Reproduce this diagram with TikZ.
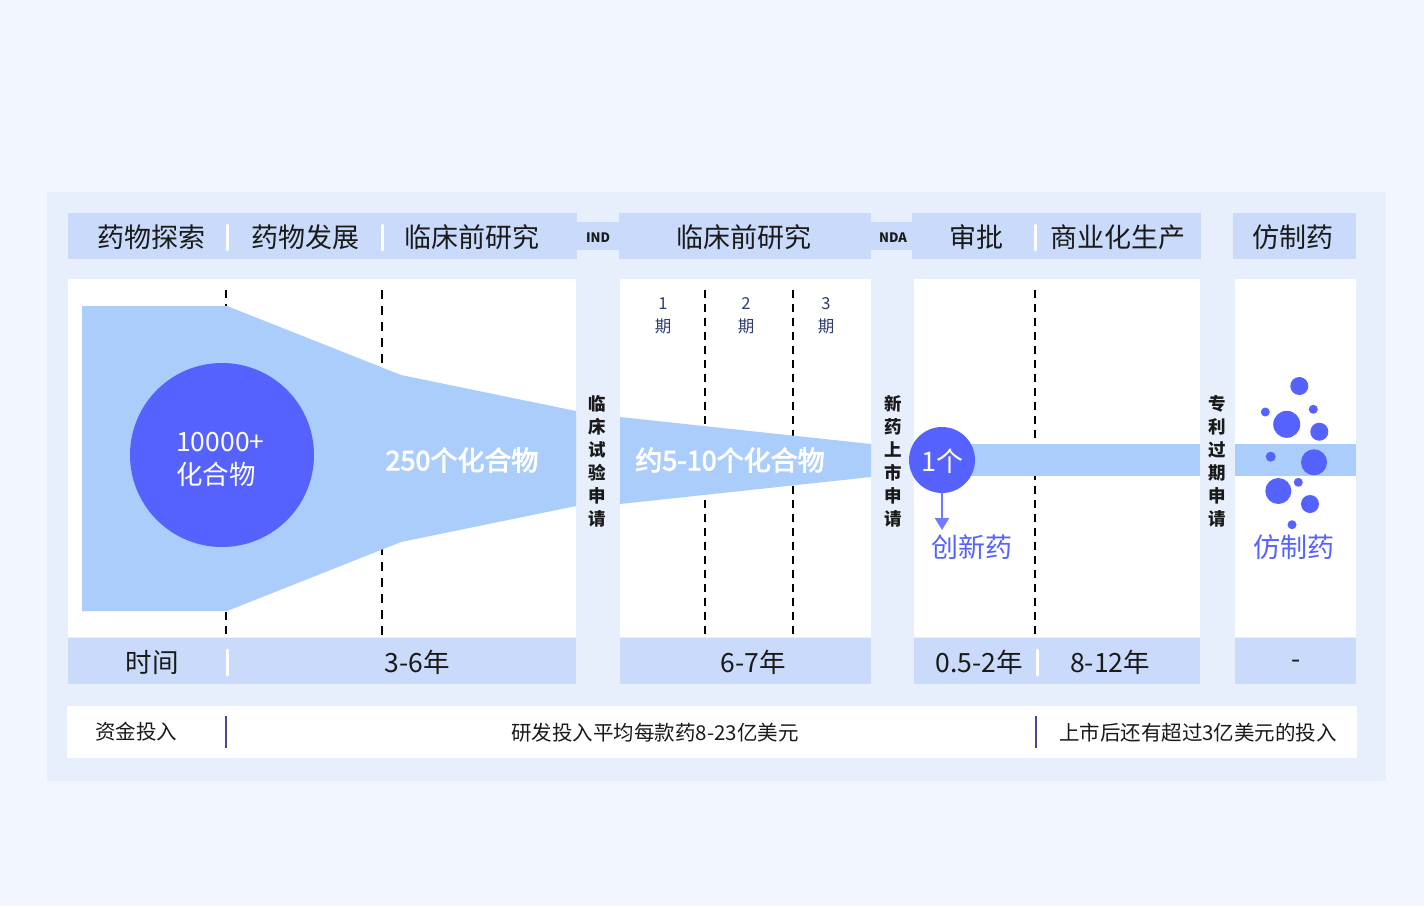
\documentclass[tikz,border=0pt]{standalone}
\usepackage{fontspec}
\setmainfont{Noto Sans CJK SC}
\newfontfamily\semib[FakeBold=3]{Noto Sans CJK SC}
\usetikzlibrary{arrows.meta}
\definecolor{bgc}{HTML}{F2F7FF}
\definecolor{panelc}{HTML}{E7EFFD}
\definecolor{barc}{HTML}{C9DAFA}
\definecolor{func}{HTML}{ABCDFB}
\definecolor{dotc}{HTML}{5662FE}
\definecolor{navy}{HTML}{2E3F6E}
\definecolor{sepc}{HTML}{4A4A8A}
\definecolor{txtc}{HTML}{1A1A1A}
\tikzset{
  barbox/.style={fill=barc, draw=none, inner sep=0pt, minimum height=46pt},
  panelbox/.style={fill=white, draw=none, inner sep=0pt, minimum height=358pt},
  bandbox/.style={fill=barc, draw=none, inner sep=0pt, minimum height=28pt},
  htext/.style={font=\fontsize{27}{30}\selectfont, text=txtc, inner sep=0pt},
  ttext/.style={font=\fontsize{26.5}{30}\selectfont, text=txtc, inner sep=0pt},
  ftext/.style={font=\fontsize{20.5}{24}\selectfont, text=txtc, inner sep=0pt},
  smalltag/.style={font=\bfseries\fontsize{13}{15}\selectfont, text=txtc, inner sep=0pt},
  vtext/.style={font=\bfseries\fontsize{17.5}{23}\selectfont, text=txtc, align=center, inner sep=0pt},
  phtext/.style={font=\fontsize{16.5}{23}\selectfont, text=navy, align=center, inner sep=0pt},
  whitesep/.style={draw=white, line width=3pt, line cap=round},
  darksep/.style={draw=sepc, line width=1.3pt},
  thindash/.style={draw=black, line width=1.1pt, dash pattern=on 8pt off 6pt},
  thickdash/.style={draw=black, line width=2pt, dash pattern=on 9pt off 7pt},
}
\begin{document}
\begin{tikzpicture}[x=1pt, y=-1pt]
\useasboundingbox (0,0) rectangle (1424,906);
\fill[bgc] (0,0) rectangle (1424,906);
\fill[panelc] (47,192) rectangle (1386,781);

% header row
\node[bandbox, minimum width=44pt] (ind) at (598,236) {};
\node[bandbox, minimum width=43pt] (nda) at (891.5,236) {};
\node[barbox, minimum width=509pt] (h1) at (322.5,236) {};
\node[barbox, minimum width=252pt] (h2) at (745,236) {};
\node[barbox, minimum width=289pt] (h3) at (1056.5,236) {};
\node[barbox, minimum width=123pt] (h4) at (1294.5,236) {};
\node[htext] (h1a) at (151,237) {药物探索};
\node[htext] (h1b) at (305,237) {药物发展};
\node[htext] (h1c) at (472,237) {临床前研究};
\node[smalltag] (indt) at (598,238) {IND};
\node[htext] (h2a) at (744,237) {临床前研究};
\node[smalltag] (ndat) at (893,238) {NDA};
\node[htext] (h3a) at (976,237) {审批};
\node[htext] (h3b) at (1118,237) {商业化生产};
\node[htext] (h4a) at (1293,237) {仿制药};
\draw[whitesep] (227,225) -- (227,250);
\draw[whitesep] (382,225) -- (382,250);
\draw[whitesep] (1035,225) -- (1035,250);

% content panels
\node[panelbox, minimum width=508pt] (p1) at (322,458) {};
\node[panelbox, minimum width=251pt] (p2) at (745.5,458) {};
\node[panelbox, minimum width=286pt] (p3) at (1057,458) {};
\node[panelbox, minimum width=121pt] (p4) at (1295.5,458) {};

% dashed dividers
\draw[thindash] (226,290) -- (226,635);
\draw[thickdash] (382,290) -- (382,635);
\draw[thindash] (705,290) -- (705,635);
\draw[thindash] (793,290) -- (793,635);
\draw[thindash] (1035,290) -- (1035,635);

% funnel
\fill[func] (82,306) -- (227,306) -- (401,375) -- (576,411) -- (576,506) -- (401,542) -- (227,611) -- (82,611) -- cycle;
\fill[func] (620,417) -- (871,444) -- (871,477) -- (620,504) -- cycle;
\fill[func] (942,444) rectangle (1200,476);
\fill[func] (1235,444) rectangle (1356,476);

% big circle
\node[circle, fill=dotc, minimum size=184pt, inner sep=0pt] (c1) at (222,455) {};
\node[font=\fontsize{26.5}{33}\selectfont, text=white, align=left, anchor=west, inner sep=0pt] (c1t) at (176,459) {10000+\\化合物};
\node[font=\semib\fontsize{27}{30}\selectfont, text=white, inner sep=0pt] (f1) at (462,460) {250个化合物};
\node[font=\semib\fontsize{27}{30}\selectfont, text=white, inner sep=0pt] (f2) at (730,460) {约5-10个化合物};

% phase labels
\node[phtext] (ph1) at (663,316) {1\\期};
\node[phtext] (ph2) at (746,316) {2\\期};
\node[phtext] (ph3) at (826,316) {3\\期};

% vertical strip labels
\node[vtext] (v1) at (597,461.5) {临\\床\\试\\验\\申\\请};
\node[vtext] (v2) at (893,461.5) {新\\药\\上\\市\\申\\请};
\node[vtext] (v3) at (1217,461.5) {专\\利\\过\\期\\申\\请};

% new drug
\node[circle, fill=dotc, minimum size=66pt, inner sep=0pt] (c2) at (942,460) {};
\node[font=\fontsize{27}{30}\selectfont, text=white, inner sep=0pt] (c2t) at (942,461) {1个};
\coordinate (a1) at (942,530);
\draw[draw=dotc!85!white, line width=2pt, -{Triangle[width=14pt,length=12pt]}] (c2.south) -- (a1);
\node[font=\fontsize{27}{30}\selectfont, text=dotc, inner sep=0pt] (inn) at (972,547) {创新药};

% generic dots
\fill[dotc] (1299.3,386) circle (9);
\fill[dotc] (1265.3,412) circle (4.5);
\fill[dotc] (1313.3,409.3) circle (4.5);
\fill[dotc] (1286.7,424.3) circle (13.5);
\fill[dotc] (1319.3,431.7) circle (9);
\fill[dotc] (1270.7,456.7) circle (5);
\fill[dotc] (1314,462.3) circle (13);
\fill[dotc] (1278.3,491) circle (13);
\fill[dotc] (1298.3,482.3) circle (4.5);
\fill[dotc] (1310,504) circle (9);
\fill[dotc] (1292,524.7) circle (4.5);
\node[font=\fontsize{27}{30}\selectfont, text=dotc, inner sep=0pt] (gen) at (1294,547) {仿制药};

% time row
\node[barbox, minimum width=508pt] (t1) at (322,661) {};
\node[barbox, minimum width=251pt] (t2) at (745.5,661) {};
\node[barbox, minimum width=286pt] (t3) at (1057,661) {};
\node[barbox, minimum width=121pt] (t4) at (1295.5,661) {};
\node[ttext] (t1a) at (152,662) {时间};
\node[ttext] (t1b) at (417,662) {3-6年};
\node[ttext] (t2a) at (753,662) {6-7年};
\node[ttext] (t3a) at (979,662) {0.5-2年};
\node[ttext] (t3b) at (1110,662) {8-12年};
\node[ttext] (t4a) at (1296,664) {-};
\draw[whitesep] (227,650) -- (227,675);
\draw[whitesep] (1037,650) -- (1037,675);

% funding row
\node[fill=white, draw=none, inner sep=0pt, minimum width=1290pt, minimum height=52pt] (fr) at (712,732) {};
\node[ftext] (fa) at (136,732) {资金投入};
\node[ftext] (fb) at (655,733) {研发投入平均每款药8-23亿美元};
\node[ftext] (fc) at (1198,733) {上市后还有超过3亿美元的投入};
\draw[darksep] (226,716) -- (226,748);
\draw[darksep] (1036,716) -- (1036,748);
\end{tikzpicture}
\end{document}
